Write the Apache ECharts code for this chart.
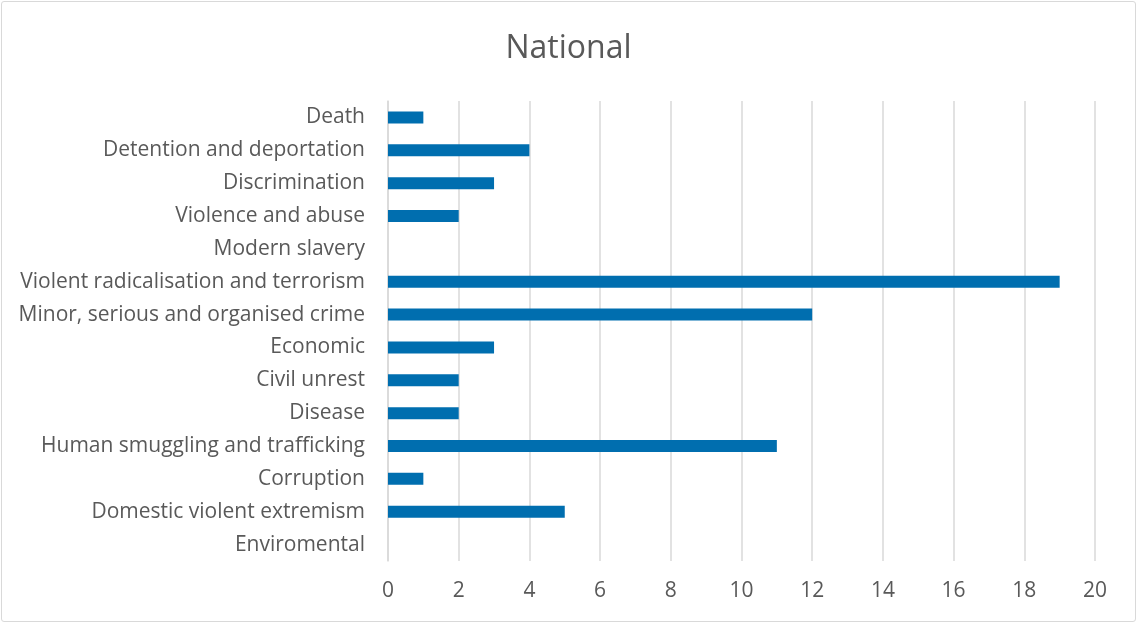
<!DOCTYPE html>
<html>
<head>
<meta charset="utf-8">
<script src="https://cdn.jsdelivr.net/npm/echarts@6/dist/echarts.min.js"></script>
<style>
html,body{margin:0;padding:0;background:#fff;}
#frame{position:absolute;left:1px;top:1px;width:1133px;height:619px;border:1px solid #d9d9d9;border-radius:3px;}
#chart{position:absolute;left:0;top:0;width:1137px;height:623px;}
</style>
</head>
<body>
<div id="frame"></div>
<div id="chart"></div>
<script>
const categories = ["Death","Detention and deportation","Discrimination","Violence and abuse","Modern slavery","Violent radicalisation and terrorism","Minor, serious and organised crime","Economic","Civil unrest","Disease","Human smuggling and trafficking","Corruption","Domestic violent extremism","Enviromental"];
const values = [1,4,3,2,0,19,12,3,2,2,11,1,5,0];
const xTicks = [0,2,4,6,8,10,12,14,16,18,20];

const font = "'Open Sans', sans-serif";
const chart = echarts.init(document.getElementById('chart'));
chart.setOption({
  animation:false,
  title:{text:"National",left:'center',top:28,textStyle:{fontFamily:font,fontSize:32,fontWeight:'normal',color:'#595959'}},
  grid:{left:388,right:1137-1095,top:101,bottom:623-561,containLabel:false},
  xAxis:{type:'value',min:xTicks[0],max:xTicks[xTicks.length-1],interval:xTicks[1]-xTicks[0],
    axisLine:{show:false},axisTick:{show:false},
    splitLine:{lineStyle:{color:'#d9d9d9',width:1.5}},
    axisLabel:{margin:20,fontFamily:font,fontSize:21,color:'#595959'}},
  yAxis:{type:'category',inverse:true,data:categories,
    axisLine:{show:true,lineStyle:{color:'#d9d9d9',width:1.5}},axisTick:{show:false},
    axisLabel:{margin:23,fontFamily:font,fontSize:21,color:'#595959',padding:[4,0,0,0]}},
  series:[{type:'bar',data:values,barWidth:12,itemStyle:{color:'#006EAF'}}]
});
</script>
</body>
</html>
